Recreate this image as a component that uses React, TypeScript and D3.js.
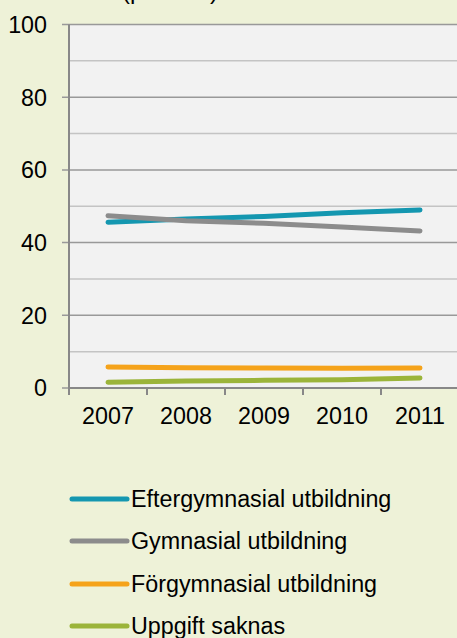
import React from "react";
import * as d3 from "d3";

const years = ["2007", "2008", "2009", "2010", "2011"];
const eftergymnasial = [45.6, 46.5, 47.2, 48.2, 49.0];
const gymnasial = [47.4, 46.0, 45.3, 44.3, 43.2];
const forgymnasial = [5.8, 5.6, 5.5, 5.4, 5.5];
const uppgiftSaknas = [1.6, 1.9, 2.1, 2.3, 2.75];
const seriesNames = [
  "Eftergymnasial utbildning",
  "Gymnasial utbildning",
  "Förgymnasial utbildning",
  "Uppgift saknas",
];
const seriesColors = ["#1497b0", "#8c8c8c", "#f5a31a", "#9bb43a"];
const yTicks = [0, 20, 40, 60, 80, 100];
const yMinor = [10, 30, 50, 70, 90];

export default function App() {
  const W = 457, H = 638;
  const left = 69, top = 24.5, bottom = 388, right = 459;
  const x = d3.scaleBand<string>().domain(years).range([left, right]);
  const y = d3.scaleLinear().domain([0, 100]).range([bottom, top]);
  const data = [eftergymnasial, gymnasial, forgymnasial, uppgiftSaknas];
  const line = d3
    .line<number>()
    .x((_, i) => (x(years[i]) as number) + x.bandwidth() / 2)
    .y((d) => y(d));
  const font = "Liberation Sans, Arial, sans-serif";
  const boundaries = years.map((yr) => x(yr) as number).concat([right]);
  const legendY = [499, 541, 584, 626];
  const fs = 23.3;

  return (
    <svg
      width={W}
      height={H}
      style={{ position: "fixed", top: 0, left: 0, display: "block" }}
      fontFamily={font}
    >
      <rect x={0} y={0} width={W} height={H} fill="#eef2d8" />
      <text x={122} y={-1} fontSize={24} fill="#000">
        (procent)
      </text>
      <rect x={left} y={top} width={right - left} height={bottom - top} fill="#f2f2f2" />
      {yMinor.map((t) => (
        <line key={"m" + t} x1={left} x2={right} y1={y(t)} y2={y(t)} stroke="#c4c4c4" strokeWidth={1.5} />
      ))}
      {yTicks.map((t) => (
        <g key={"t" + t}>
          <line x1={left - 7} x2={right} y1={y(t)} y2={y(t)} stroke="#999" strokeWidth={1.5} />
          <text x={47} y={y(t)} dy="0.36em" textAnchor="end" fontSize={fs} fill="#000">
            {t}
          </text>
        </g>
      ))}
      <line x1={left} x2={left} y1={top} y2={bottom} stroke="#888" strokeWidth={2} />
      <line x1={left} x2={right} y1={bottom} y2={bottom} stroke="#888" strokeWidth={2} />
      {boundaries.map((b, i) => (
        <line key={"xb" + i} x1={b} x2={b} y1={bottom} y2={bottom + 7} stroke="#888" strokeWidth={2} />
      ))}
      {years.map((yr) => (
        <text
          key={yr}
          x={(x(yr) as number) + x.bandwidth() / 2}
          y={424}
          textAnchor="middle"
          fontSize={fs}
          fill="#000"
        >
          {yr}
        </text>
      ))}
      {data.map((s, i) => (
        <path
          key={seriesNames[i]}
          d={line(s) || ""}
          fill="none"
          stroke={seriesColors[i]}
          strokeWidth={5}
          strokeLinecap="round"
          strokeLinejoin="round"
        />
      ))}
      {seriesNames.map((n, i) => (
        <g key={"lg" + n}>
          <line
            x1={72}
            x2={127}
            y1={legendY[i]}
            y2={legendY[i]}
            stroke={seriesColors[i]}
            strokeWidth={5}
            strokeLinecap="round"
          />
          <text x={131} y={legendY[i] + 8} fontSize={fs} fill="#000">
            {n}
          </text>
        </g>
      ))}
    </svg>
  );
}
